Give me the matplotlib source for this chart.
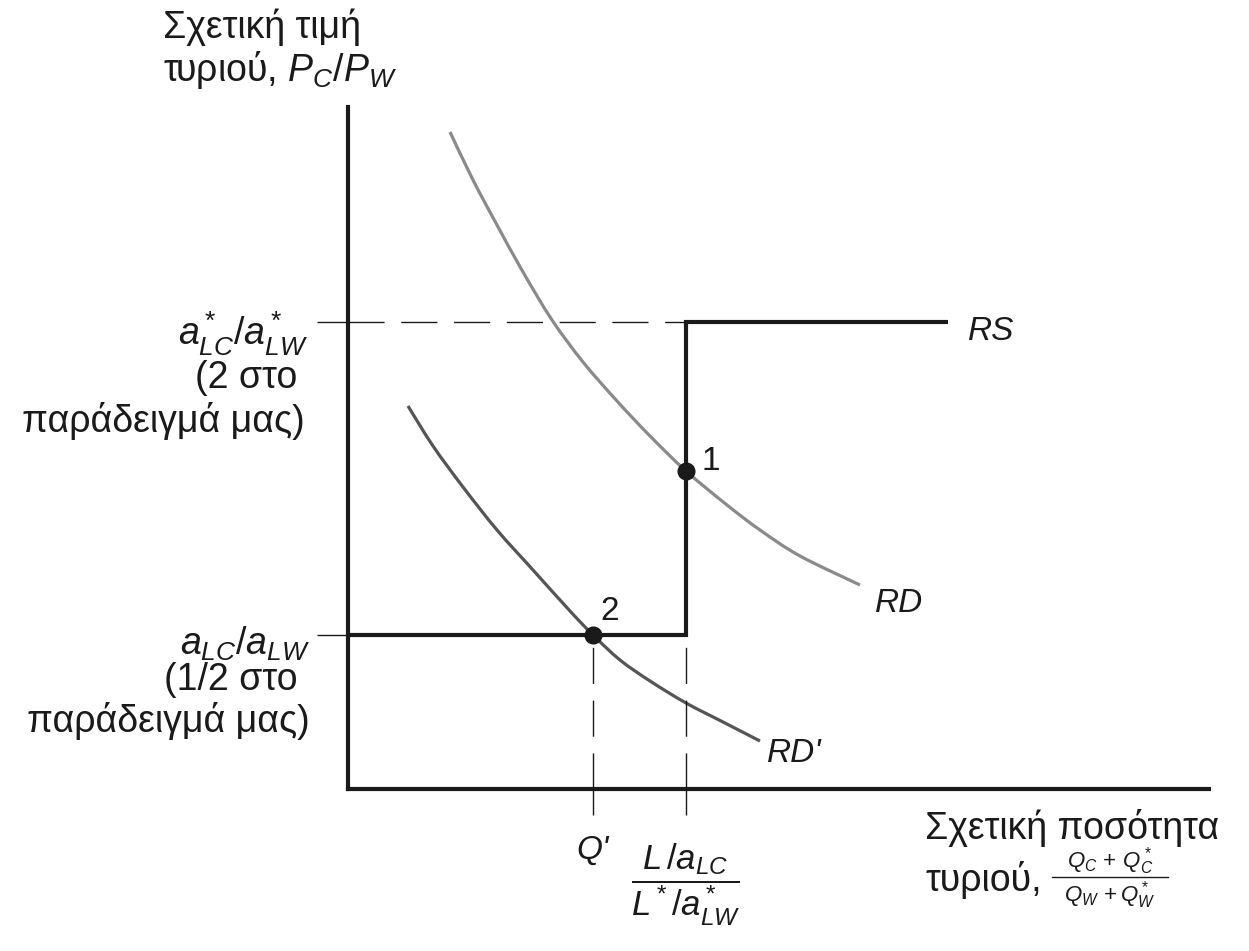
import matplotlib
matplotlib.use("Agg")
import matplotlib.pyplot as plt
from matplotlib.path import Path
from matplotlib.patches import PathPatch
from matplotlib.lines import Line2D

plt.rcParams['font.family'] = ['Liberation Sans', 'DejaVu Sans']
plt.rcParams['mathtext.fontset'] = 'custom'
plt.rcParams['mathtext.rm'] = 'Liberation Sans'
plt.rcParams['mathtext.it'] = 'Liberation Sans:italic'
plt.rcParams['mathtext.bf'] = 'Liberation Sans:bold'

# relative demand curves
rd_x = [1.02, 1.25, 1.49, 1.75, 2.04, 2.35, 2.69, 3.02, 3.38, 3.79, 4.12, 4.52, 5.12]
rd_y = [6.57, 6.09, 5.64, 5.17, 4.69, 4.27, 3.88, 3.53, 3.18, 2.84, 2.59, 2.33, 2.04]
rd2_x = [0.60, 0.85, 1.15, 1.49, 1.85, 2.22, 2.45, 2.72, 3.02, 3.38, 3.75, 4.12]
rd2_y = [3.83, 3.43, 3.02, 2.59, 2.19, 1.78, 1.54, 1.29, 1.08, 0.86, 0.67, 0.48]

# relative supply
rs_low = 1.54      # aLC/aLW
rs_high = 4.67     # a*LC/a*LW
q_switch = 3.38    # (L/aLC)/(L*/a*LW)
rs_end = 6.00
q_prime = 2.45

eq_x = [q_switch, q_prime]
eq_y = [3.18, rs_low]
eq_names = ["1", "2"]


def smooth_path(xs, ys):
    # cubic bezier through the read points (catmull-rom tangents)
    pts = list(zip(xs, ys))
    verts = [pts[0]]
    codes = [Path.MOVETO]
    n = len(pts)
    for i in range(n - 1):
        p0 = pts[max(i - 1, 0)]
        p1 = pts[i]
        p2 = pts[i + 1]
        p3 = pts[min(i + 2, n - 1)]
        c1 = (p1[0] + (p2[0] - p0[0]) / 6, p1[1] + (p2[1] - p0[1]) / 6)
        c2 = (p2[0] - (p3[0] - p1[0]) / 6, p2[1] - (p3[1] - p1[1]) / 6)
        verts += [c1, c2, p2]
        codes += [Path.CURVE4] * 3
    return Path(verts, codes)


W, H = 1249, 951
fig = plt.figure(figsize=(W / 100, H / 100), dpi=100)
ax = fig.add_axes([348 / W, 1 - 789 / H, (1209 - 348) / W, (789 - 107) / H])
ax.set_xlim(0, 8.61)
ax.set_ylim(0, 6.82)

ink = '#1a1a1a'
for s in ['top', 'right']:
    ax.spines[s].set_visible(False)
for s in ['left', 'bottom']:
    ax.spines[s].set_linewidth(3)
    ax.spines[s].set_color(ink)
    ax.spines[s].set_capstyle('projecting')

ax.set_xticks([q_prime, q_switch])
ax.set_yticks([rs_low, rs_high])
ax.set_xticklabels([])
ax.set_yticklabels([])
ax.tick_params(axis='x', direction='out', length=19, width=1, color=ink)
ax.tick_params(axis='y', direction='out', length=22, width=1, color=ink)

# dashed guides
dash = (0, (26, 12))
ax.plot([0, q_switch], [rs_high, rs_high], color=ink, lw=1, ls=dash)
ax.plot([q_prime, q_prime], [0, rs_low], color=ink, lw=1, ls=dash)
ax.plot([q_switch, q_switch], [0, rs_low], color=ink, lw=1, ls=dash)

# curves
ax.add_patch(PathPatch(smooth_path(rd_x, rd_y), fill=False, edgecolor='#8a8a8a', lw=2.3, capstyle='butt'))
ax.add_patch(PathPatch(smooth_path(rd2_x, rd2_y), fill=False, edgecolor='#555555', lw=2.3, capstyle='butt'))
ax.plot([0, q_switch, q_switch, rs_end], [rs_low, rs_low, rs_high, rs_high],
        color=ink, lw=3, solid_joinstyle='miter', solid_capstyle='butt')
ax.plot(eq_x, eq_y, 'o', color=ink, ms=12, ls='none', zorder=5)

fs_s = 24
ax.text(6.20, 4.57, "RS", fontsize=fs_s, style='italic', va='center', ha='left', color=ink)
ax.text(5.27, 1.86, "RD", fontsize=fs_s, style='italic', va='center', ha='left', color=ink)
ax.text(4.19, 0.36, "RD'", fontsize=fs_s, style='italic', va='center', ha='left', color=ink)
ax.text(3.54, 3.27, eq_names[0], fontsize=fs_s, va='center', ha='left', color=ink)
ax.text(2.52, 1.78, eq_names[1], fontsize=fs_s, va='center', ha='left', color=ink)


def fx(x):
    return x / W


def fy(y):
    return 1 - y / H


fs_g = 27
fs_m = 27

# y axis title
fig.text(fx(163), fy(27), "Σχετική τιμή", fontsize=fs_g, ha='left', va='center', color=ink)
fig.text(fx(163), fy(70), "τυριού, $P_C/P_W$", fontsize=fs_g, ha='left', va='center', color=ink)

# y tick labels
fig.text(fx(308), fy(334), "$a^*_{LC}/a^*_{LW}$", fontsize=fs_m, ha='right', va='center', color=ink)
fig.text(fx(297), fy(378), "(2 στο", fontsize=fs_g, ha='right', va='center', color=ink)
fig.text(fx(305), fy(421), "παράδειγμά μας)", fontsize=fs_g, ha='right', va='center', color=ink)
fig.text(fx(310), fy(644), "$a_{LC}/a_{LW}$", fontsize=fs_m, ha='right', va='center', color=ink)
fig.text(fx(297), fy(680), "(1/2 στο", fontsize=fs_g, ha='right', va='center', color=ink)
fig.text(fx(310), fy(721), "παράδειγμά μας)", fontsize=fs_g, ha='right', va='center', color=ink)

# x tick labels
fig.text(fx(593), fy(850), "Q'", fontsize=fs_s, style='italic', ha='center', va='center', color=ink)
fig.text(fx(686), fy(885), r"$\dfrac{L\,/a_{LC}}{L^*/a^*_{LW}}$", fontsize=25, ha='center', va='center', color=ink)

# x axis title
fig.text(fx(925), fy(828), "Σχετική ποσότητα", fontsize=fs_g, ha='left', va='center', color=ink)
fig.text(fx(925), fy(880), "τυριού,", fontsize=fs_g, ha='left', va='center', color=ink)
fig.text(fx(1110), fy(861), r"$Q_C\,+\,Q^*_C$", fontsize=16, ha='center', va='center', color=ink)
fig.text(fx(1110), fy(895), r"$Q_W\,+Q^*_W$", fontsize=16, ha='center', va='center', color=ink)
fig.add_artist(Line2D([fx(1052), fx(1168)], [fy(877), fy(877)], transform=fig.transFigure, lw=1, color=ink))

fig.savefig("out.png", dpi=100)
